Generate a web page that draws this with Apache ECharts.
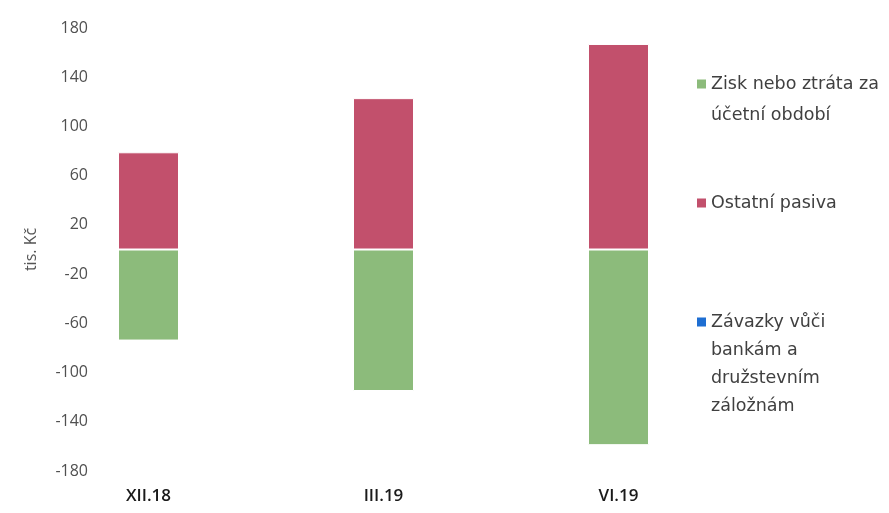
<!DOCTYPE html>
<html>
<head>
<meta charset="utf-8">
<script src="https://cdn.jsdelivr.net/npm/echarts@6/dist/echarts.min.js"></script>
<style>
html,body{margin:0;padding:0;background:#fff;}
#chart{width:889px;height:513px;}
</style>
</head>
<body>
<div id="chart"></div>
<script>
const categories = ['XII.18', 'III.19', 'VI.19'];
const seriesNames = ['Zisk nebo ztráta za účetní období', 'Ostatní pasiva', 'Závazky vůči bankám a družstevním záložnám'];
const legendLabels = ['Zisk nebo ztráta za\núčetní období', 'Ostatní pasiva', 'Závazky vůči\nbankám a\ndružstevním\nzáložnám'];
const ziskValues = [-74, -115, -159];
const ostatniValues = [79, 123, 167];
const zavazkyValues = [0, 0, 0];
const yMin = -180, yMax = 180, yStep = 40;

const colors = ['#8cbb7b', '#c2506c', '#1e6ed2'];
const font = '"Open Sans", sans-serif';
const legendFont = '"DejaVu Sans", sans-serif';

const chart = echarts.init(document.getElementById('chart'), null, {renderer: 'canvas'});

function legendFor(i, firstLineCenter, lineHeight, lines) {
  const h = lines * lineHeight;
  const a = lineHeight / 2 - 4.5;
  // square icon aligned with the first text line; zero-area segments fix the icon box height
  const icon = 'path://M0,0L9,0M0,' + a + 'L9,' + a + 'L9,' + (a + 9) + 'L0,' + (a + 9) + 'ZM0,' + h + 'L9,' + h;
  return {
    data: [{name: seriesNames[i], icon: icon}],
    orient: 'vertical',
    left: 697,
    top: firstLineCenter - lineHeight / 2,
    padding: 0,
    itemWidth: 9,
    itemHeight: h,
    itemGap: 0,
    selectedMode: false,
    itemStyle: {borderWidth: 0},
    formatter: () => legendLabels[i],
    textStyle: {
      fontFamily: legendFont,
      fontSize: 17.5,
      color: '#404040',
      lineHeight: lineHeight
    }
  };
}

chart.setOption({
  animation: false,
  color: colors,
  grid: {left: 31, top: 28, width: 705, height: 443, containLabel: false},
  legend: [
    legendFor(0, 84, 31, 2),
    legendFor(1, 203, 29, 1),
    legendFor(2, 322, 28, 4)
  ],
  xAxis: {
    type: 'category',
    data: categories,
    axisLine: {show: false},
    axisTick: {show: false},
    axisLabel: {fontFamily: font, fontSize: 17, fontWeight: 600, color: '#1a1a1a', margin: 17}
  },
  yAxis: {
    type: 'value',
    min: yMin,
    max: yMax,
    interval: yStep,
    offset: -65,
    name: 'tis. Kč',
    nameLocation: 'middle',
    nameGap: 57,
    nameTextStyle: {fontFamily: font, fontSize: 16, color: '#555'},
    axisLine: {show: false},
    axisTick: {show: false},
    splitLine: {show: false},
    axisLabel: {fontFamily: font, fontSize: 16, color: '#505050', margin: 8}
  },
  series: [
    {name: seriesNames[0], type: 'bar', stack: 'total', data: ziskValues, barWidth: 61,
     itemStyle: {color: colors[0], borderColor: '#fff', borderWidth: 1}},
    {name: seriesNames[1], type: 'bar', stack: 'total', data: ostatniValues, barWidth: 61,
     itemStyle: {color: colors[1], borderColor: '#fff', borderWidth: 1}},
    {name: seriesNames[2], type: 'bar', stack: 'total', data: zavazkyValues, barWidth: 61,
     itemStyle: {color: colors[2]}}
  ]
});
</script>
</body>
</html>
